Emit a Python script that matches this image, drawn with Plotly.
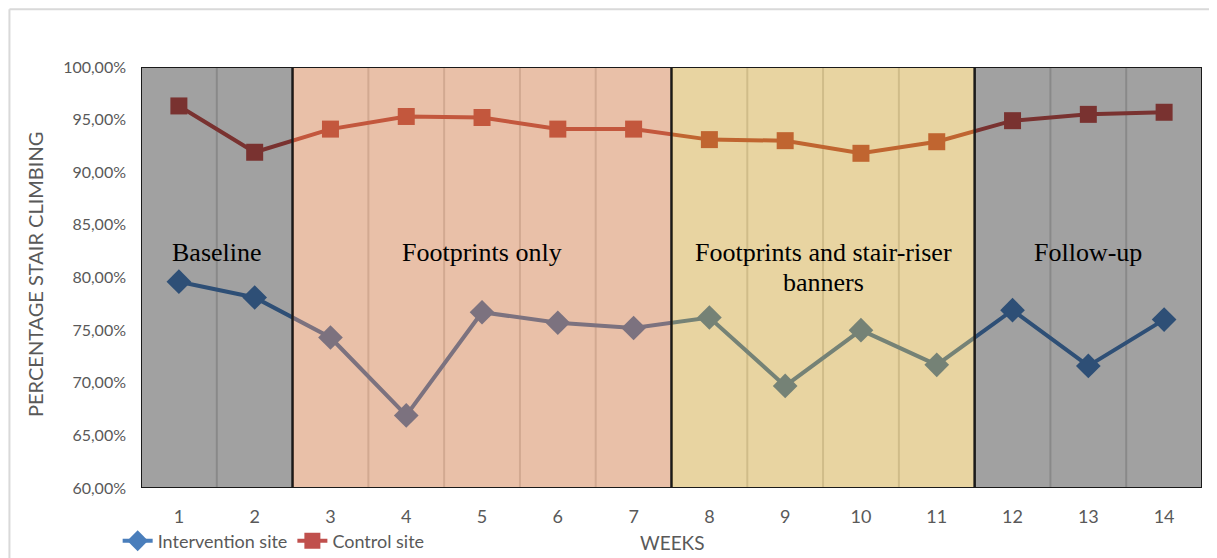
import plotly.graph_objects as go

weeks = list(range(1, 15))
intervention = [0.796, 0.781, 0.743, 0.669, 0.767, 0.757, 0.752, 0.762, 0.697, 0.750, 0.717, 0.769, 0.716, 0.760]
control = [0.963, 0.919, 0.941, 0.953, 0.952, 0.941, 0.941, 0.931, 0.930, 0.918, 0.929, 0.949, 0.955, 0.957]

phase_names = ["Baseline", "Footprints only", "Footprints and stair-riser<br>banners", "Follow-up"]
phase_start = [1, 3, 8, 12]
phase_end = [2, 7, 11, 14]
phase_fill = ["rgba(0,0,0,0.37)", "rgba(200,97,37,0.40)", "rgba(193,139,0,0.37)", "rgba(0,0,0,0.37)"]
label_top_y = 0.8233
label_line_step = 0.0285

fig = go.Figure()
fig.add_trace(go.Scatter(
    x=weeks, y=intervention, name="Intervention site", mode="lines+markers",
    line=dict(color="#4A7EBB", width=4),
    marker=dict(symbol="diamond", size=19, color="#4A7EBB"),
))
fig.add_trace(go.Scatter(
    x=weeks, y=control, name="Control site", mode="lines+markers",
    line=dict(color="#C0504D", width=4),
    marker=dict(symbol="square", size=17, color="#C0504D"),
))

shapes = []
for w in weeks[:-1]:
    shapes.append(dict(type="line", xref="x", yref="y", x0=w + 0.5, x1=w + 0.5, y0=0.6, y1=1.0,
                       line=dict(color="#D9D9D9", width=2), layer="below"))
for s, e, c in zip(phase_start, phase_end, phase_fill):
    shapes.append(dict(type="rect", xref="x", yref="y", x0=s - 0.5, x1=e + 0.5, y0=0.6, y1=1.0,
                       fillcolor=c, line=dict(color="#1A1A1A", width=2), layer="above"))
shapes.append(dict(type="line", xref="paper", yref="paper", x0=-0.124, x1=1.02, y0=1.137, y1=1.137,
                   line=dict(color="#D9D9D9", width=2)))
shapes.append(dict(type="line", xref="paper", yref="paper", x0=-0.124, x1=-0.124, y0=1.137, y1=-0.17,
                   line=dict(color="#D9D9D9", width=2)))

annotations = []
for name, s, e in zip(phase_names, phase_start, phase_end):
    for i, line in enumerate(name.split("<br>")):
        annotations.append(dict(x=(s + e) / 2, y=label_top_y - i * label_line_step, xref="x", yref="y",
                                text=line, showarrow=False, xanchor="center", yanchor="middle",
                                font=dict(family="Liberation Serif", size=26, color="#000000")))
annotations.append(dict(x=-0.0999, y=0.506, xref="paper", yref="paper", text="PERCENTAGE STAIR CLIMBING",
                        textangle=-90, showarrow=False, xanchor="center", yanchor="middle",
                        font=dict(family="Lato", size=20, color="#595959")))
annotations.append(dict(x=0.5005, y=-0.1306, xref="paper", yref="paper", text="WEEKS",
                        showarrow=False, xanchor="center", yanchor="middle",
                        font=dict(family="Lato", size=19, color="#595959")))

fig.update_layout(
    width=1209, height=550,
    margin=dict(l=133, r=15, t=59, b=70, autoexpand=False),
    paper_bgcolor="white", plot_bgcolor="white",
    separators=", ",
    font=dict(family="Lato", color="#595959"),
    shapes=shapes, annotations=annotations,
    showlegend=True,
    legend=dict(orientation="h", x=-0.022, y=-0.126, xanchor="left", yanchor="middle",
                font=dict(family="Lato", size=18, color="#595959"), bgcolor="rgba(0,0,0,0)",
                tracegroupgap=0, itemwidth=30),
    xaxis=dict(range=[0.5, 14.5], tickmode="array", tickvals=weeks, ticktext=[str(w) for w in weeks],
               showgrid=False, zeroline=False, showline=False, ticks="", automargin=False,
               ticklabelstandoff=16,
               tickfont=dict(family="Lato", size=18, color="#595959")),
    yaxis=dict(range=[0.6, 1.0], dtick=0.05, tickformat=".2%", showgrid=False, zeroline=False,
               showline=False, ticks="", ticklabelstandoff=14, automargin=False,
               tickfont=dict(family="Lato", size=16, color="#595959")),
)

fig.write_html("out.html")
